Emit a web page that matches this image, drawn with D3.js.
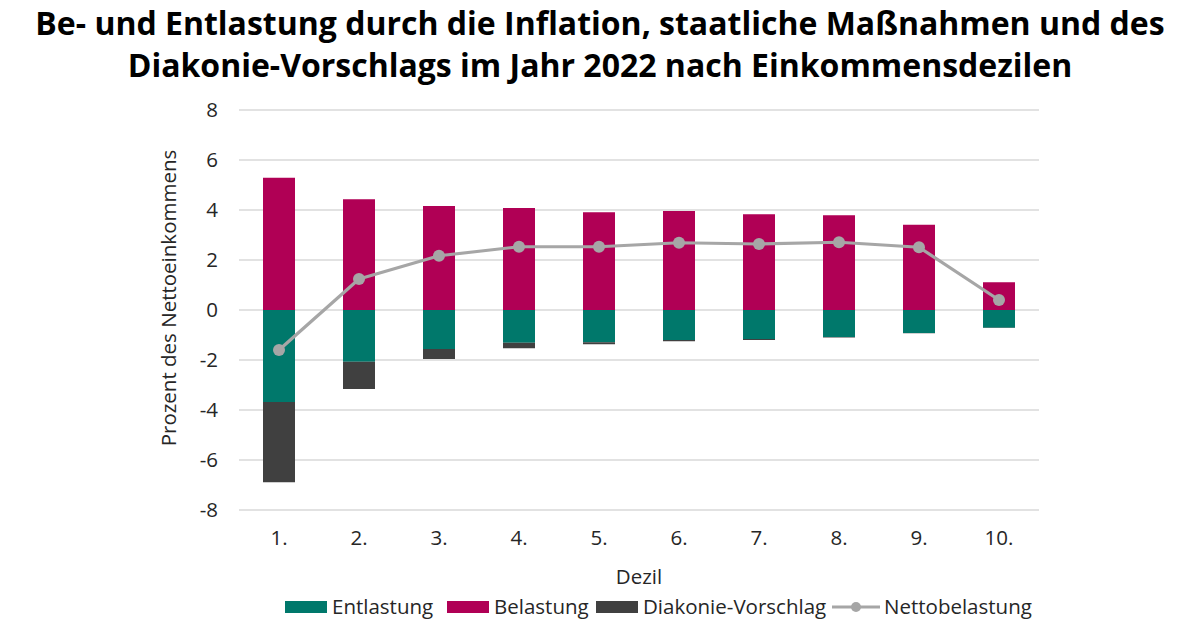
<!doctype html>
<html lang="de">
<head>
<meta charset="UTF-8" />
<script src="https://d3js.org/d3.v7.min.js"></script>
<title>Be- und Entlastung nach Einkommensdezilen</title>
<style>
  body { margin: 0; background: #fff; }
</style>
</head>
<body>
<div id="chart"></div>
<script>
  // Data (% of net income)
  const deciles = ["1.", "2.", "3.", "4.", "5.", "6.", "7.", "8.", "9.", "10."]
  const entlastung = [-3.68, -2.07, -1.56, -1.31, -1.29, -1.20, -1.16, -1.08, -0.92, -0.71]
  const belastung = [5.29, 4.43, 4.16, 4.08, 3.91, 3.96, 3.83, 3.79, 3.41, 1.11]
  const diakonie = [-3.21, -1.09, -0.40, -0.22, -0.08, -0.05, -0.04, -0.02, -0.01, -0.01]
  const netto = [-1.60, 1.24, 2.17, 2.53, 2.53, 2.69, 2.64, 2.71, 2.51, 0.40]
  const yTicks = [-8, -6, -4, -2, 0, 2, 4, 6, 8]

  const title = [
    "Be- und Entlastung durch die Inflation, staatliche Maßnahmen und des",
    "Diakonie-Vorschlags im Jahr 2022 nach Einkommensdezilen"
  ]

  const colors = {
    entlastung: "#00786b",
    belastung: "#b00055",
    diakonie: "#404040",
    netto: "#a6a6a6"
  }

  const W = 1200, H = 627
  const margin = { top: 110, right: 161, bottom: 117, left: 239 }
  const width = W - margin.left - margin.right
  const height = H - margin.top - margin.bottom
  const axisFont = "'Open Sans', sans-serif"
  const axisSize = "20.5px"

  const svg = d3.select("#chart").append("svg")
    .attr("width", W)
    .attr("height", H)

  // Title
  svg.append("g").selectAll("text")
    .data(title)
    .enter()
    .append("text")
    .attr("x", W / 2)
    .attr("y", (d, i) => 35 + i * 42)
    .attr("text-anchor", "middle")
    .attr("font-family", "'Open Sans', sans-serif")
    .attr("font-weight", "bold")
    .attr("font-size", "32px")
    .attr("fill", "#000")
    .text(d => d)

  const g = svg.append("g")
    .attr("transform", `translate(${margin.left},${margin.top})`)

  const x = d3.scaleBand().domain(deciles).range([0, width]).paddingInner(0.6).paddingOuter(0.3)
  const y = d3.scaleLinear().domain([-8, 8]).range([height, 0])

  // Gridlines
  g.append("g").selectAll("line")
    .data(yTicks)
    .enter()
    .append("line")
    .attr("x1", 0)
    .attr("x2", width)
    .attr("y1", d => y(d))
    .attr("y2", d => y(d))
    .attr("stroke", "#d9d9d9")
    .attr("stroke-width", 1.3)

  // Y axis labels (plain hyphen as minus, like the original)
  const yAxis = g.append("g")
    .call(d3.axisLeft(y).tickValues(yTicks).tickSize(0).tickPadding(21).tickFormat(d => String(d)))
  yAxis.select(".domain").remove()
  yAxis.selectAll("text")
    .attr("font-family", axisFont)
    .attr("font-size", axisSize)
    .attr("fill", "#262626")

  // X axis labels
  const xAxis = g.append("g")
    .attr("transform", `translate(0,${height})`)
    .call(d3.axisBottom(x).tickSize(0).tickPadding(20))
  xAxis.select(".domain").remove()
  xAxis.selectAll("text")
    .attr("font-family", axisFont)
    .attr("font-size", axisSize)
    .attr("fill", "#262626")

  // Bars
  const bars = g.append("g")
  deciles.forEach((d, i) => {
    bars.append("rect")
      .attr("x", x(d))
      .attr("width", x.bandwidth())
      .attr("y", y(belastung[i]))
      .attr("height", y(0) - y(belastung[i]))
      .attr("fill", colors.belastung)
    bars.append("rect")
      .attr("x", x(d))
      .attr("width", x.bandwidth())
      .attr("y", y(0))
      .attr("height", y(entlastung[i]) - y(0))
      .attr("fill", colors.entlastung)
    bars.append("rect")
      .attr("x", x(d))
      .attr("width", x.bandwidth())
      .attr("y", y(entlastung[i]))
      .attr("height", y(entlastung[i] + diakonie[i]) - y(entlastung[i]))
      .attr("fill", colors.diakonie)
  })

  // Net line
  const line = d3.line()
    .x((d, i) => x(deciles[i]) + x.bandwidth() / 2)
    .y(d => y(d))

  g.append("path")
    .datum(netto)
    .attr("d", line)
    .attr("fill", "none")
    .attr("stroke", colors.netto)
    .attr("stroke-width", 3.2)
    .attr("stroke-linejoin", "round")

  g.append("g").selectAll("circle")
    .data(netto)
    .enter()
    .append("circle")
    .attr("cx", (d, i) => x(deciles[i]) + x.bandwidth() / 2)
    .attr("cy", d => y(d))
    .attr("r", 6)
    .attr("fill", colors.netto)

  // Axis titles
  svg.append("text")
    .attr("transform", `translate(176,${margin.top + height / 2 - 12}) rotate(-90)`)
    .attr("text-anchor", "middle")
    .attr("font-family", axisFont)
    .attr("font-size", axisSize)
    .attr("fill", "#262626")
    .text("Prozent des Nettoeinkommens")

  svg.append("text")
    .attr("x", margin.left + width / 2)
    .attr("y", 584)
    .attr("text-anchor", "middle")
    .attr("font-family", axisFont)
    .attr("font-size", axisSize)
    .attr("fill", "#262626")
    .text("Dezil")

  // Legend
  const legendItems = [
    { label: "Entlastung", color: colors.entlastung, type: "rect", x: 285 },
    { label: "Belastung", color: colors.belastung, type: "rect", x: 447 },
    { label: "Diakonie-Vorschlag", color: colors.diakonie, type: "rect", x: 596 },
    { label: "Nettobelastung", color: colors.netto, type: "line", x: 832 }
  ]
  const legend = svg.append("g").attr("transform", "translate(0,607)")
  legendItems.forEach(item => {
    const row = legend.append("g").attr("transform", `translate(${item.x},0)`)
    if (item.type === "rect") {
      row.append("rect")
        .attr("x", 0).attr("y", -6)
        .attr("width", 42).attr("height", 12)
        .attr("fill", item.color)
    } else {
      row.append("line")
        .attr("x1", 0).attr("x2", 48)
        .attr("y1", 0).attr("y2", 0)
        .attr("stroke", item.color)
        .attr("stroke-width", 3.2)
      row.append("circle")
        .attr("cx", 24).attr("cy", 0).attr("r", 5)
        .attr("fill", item.color)
    }
    row.append("text")
      .attr("x", item.type === "rect" ? 47 : 52)
      .attr("y", 0)
      .attr("dy", "0.35em")
      .attr("font-family", axisFont)
      .attr("font-size", axisSize)
      .attr("fill", "#262626")
      .text(item.label)
  })
</script>
</body>
</html>
